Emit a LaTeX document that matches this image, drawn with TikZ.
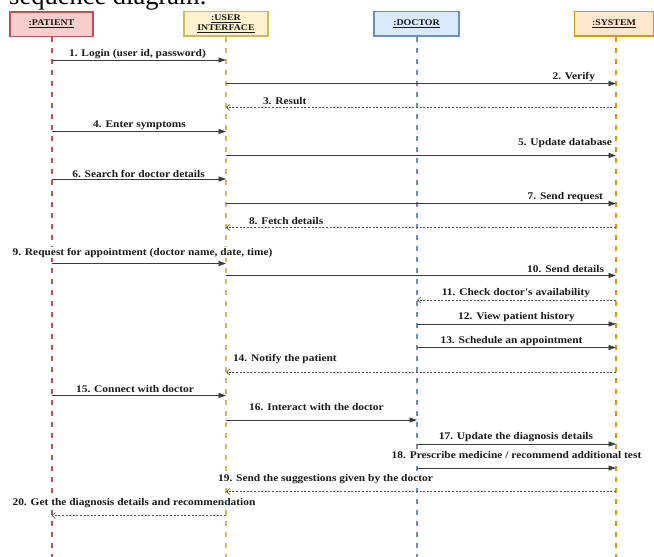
\documentclass[tikz,border=0pt]{standalone}
\usepackage{fontspec}
\setmainfont{Liberation Serif}
\newfontfamily\lblfont{Liberation Serif}[FakeStretch=1.12]
\usetikzlibrary{arrows.meta}

\definecolor{redS}{HTML}{B85450}\definecolor{redF}{HTML}{F8CECC}
\definecolor{yelS}{HTML}{D6B656}\definecolor{yelF}{HTML}{FFF2CC}
\definecolor{bluS}{HTML}{6C8EBF}\definecolor{bluF}{HTML}{DAE8FC}
\definecolor{orgS}{HTML}{D79B00}\definecolor{orgF}{HTML}{FFE6CC}
\definecolor{inkC}{HTML}{1A1A1A}

\tikzset{
  head/.style={draw, line width=1.5pt, minimum height=24.5pt, inner sep=0pt,
    align=center, text=inkC,
    font=\lblfont\bfseries\fontsize{8.8}{9.3}\selectfont},
  life/.style={line width=2pt, dash pattern=on 5pt off 6pt},
  msg/.style={draw=inkC!85, line width=0.75pt, -{Triangle[length=7.5pt,width=5pt]}},
  ret/.style={draw=inkC!75, line width=0.6pt, dash pattern=on 2pt off 1.6pt,
    -{Straight Barb[length=3.5pt,width=6pt]}},
  lbl/.style={inner sep=0.8pt, text=inkC, fill=white,
    font=\lblfont\bfseries\fontsize{10.2}{12}\selectfont},
}

\begin{document}
\begin{tikzpicture}[x=1pt,y=-1pt]
\useasboundingbox (0,0) rectangle (654,557);
\fill[white] (0,0) rectangle (654,557);

% caption text running off the top edge
\node[anchor=base west, inner sep=0pt, font=\fontsize{26.5}{28}\selectfont] (cap) at (9,4.5) {sequence diagram.};

% lifeline heads
\node[head, draw=redS, fill=redF, minimum width=83pt] (p) at (51.5,24) {\underline{:PATIENT}};
\node[head, draw=yelS, fill=yelF, minimum width=84pt] (u) at (226,23.5) {\underline{:USER}\\[1pt]\underline{INTERFACE}};
\node[head, draw=bluS, fill=bluF, minimum width=85pt] (d) at (416.5,23.5) {\underline{:DOCTOR}};
\node[head, draw=orgS, fill=orgF, minimum width=79pt] (s) at (614,23.5) {\underline{:SYSTEM}};

% lifelines
\coordinate (bot) at (0,557);
\draw[life, redS] (p.south) -- (p.south |- bot);
\draw[life, yelS] (u.south) -- (u.south |- bot);
\draw[life, bluS] ([xshift=0.5pt]d.south) -- ([xshift=0.5pt]d.south |- bot);
\draw[life, orgS] ([xshift=2pt]s.south) -- ([xshift=2pt]s.south |- bot);

% message rows
\coordinate (y1) at (0,60);   \coordinate (y2) at (0,83.5);
\coordinate (y3) at (0,107.5);\coordinate (y4) at (0,131.5);
\coordinate (y5) at (0,155.5);\coordinate (y6) at (0,179);
\coordinate (y7) at (0,203.5);\coordinate (y8) at (0,227.5);
\coordinate (y9) at (0,263.5);\coordinate (y10) at (0,275.5);
\coordinate (y11) at (0,300); \coordinate (y12) at (0,324);
\coordinate (y13) at (0,347.5);\coordinate (y14) at (0,372);
\coordinate (y15) at (0,395.5);\coordinate (y16) at (0,420);
\coordinate (y17) at (0,444); \coordinate (y18) at (0,468);
\coordinate (y19) at (0,491.5);\coordinate (y20) at (0,515.5);

% lifeline x references
\coordinate (P) at (51.5,0); \coordinate (U) at (226,0);
\coordinate (D) at (417,0);  \coordinate (S) at (616,0);

\draw[msg] (P |- y1) -- (U |- y1);
\draw[msg] (U |- y2) -- (S |- y2);
\draw[ret] (S |- y3) -- (U |- y3);
\draw[msg] (P |- y4) -- (U |- y4);
\draw[msg] (U |- y5) -- (S |- y5);
\draw[msg] (P |- y6) -- (U |- y6);
\draw[msg] (U |- y7) -- (S |- y7);
\draw[ret] (S |- y8) -- (U |- y8);
\draw[msg] (P |- y9) -- (U |- y9);
\draw[msg] (U |- y10) -- (S |- y10);
\draw[ret] (S |- y11) -- (D |- y11);
\draw[msg] (D |- y12) -- (S |- y12);
\draw[msg] (D |- y13) -- (S |- y13);
\draw[ret] (S |- y14) -- (U |- y14);
\draw[msg] (P |- y15) -- (U |- y15);
\draw[msg] (U |- y16) -- (D |- y16);
\draw[msg] (D |- y17) -- (S |- y17);
\draw[msg] (D |- y18) -- (S |- y18);
\draw[ret] (S |- y19) -- (U |- y19);
\draw[ret] (U |- y20) -- (P |- y20);

% message labels
\node[lbl] (l1) at (137.5,54) {1. Login (user id, password)};
\node[lbl, anchor=east] (l2) at (596,77.5) {2. Verify};
\node[lbl, anchor=west] (l3) at (262,101.5) {3. Result};
\node[lbl] (l4) at (139.5,125.5) {4. Enter symptoms};
\node[lbl, anchor=east] (l5) at (613,143.5) {5. Update database};
\node[lbl] (l6) at (138.5,174) {6. Search for doctor details};
\node[lbl, anchor=east] (l7) at (604,197.5) {7. Send request};
\node[lbl, anchor=west] (l8) at (248,221.5) {8. Fetch details};
\node[lbl] (l9) at (142.5,252.5) {9. Request for appointment (doctor name, date, time)};
\node[lbl, anchor=east] (l10) at (605,269.5) {10. Send details};
\node[lbl] (l11) at (516,293.5) {11. Check doctor's availability};
\node[lbl] (l12) at (516.5,317.5) {12. View patient history};
\node[lbl] (l13) at (511.5,341.5) {13. Schedule an appointment};
\node[lbl, anchor=west] (l14) at (232,359.5) {14. Notify the patient};
\node[lbl] (l15) at (135,389.5) {15. Connect with doctor};
\node[lbl] (l16) at (316.5,407.5) {16. Interact with the doctor};
\node[lbl] (l17) at (516,437.5) {17. Update the diagnosis details};
\node[lbl] (l18) at (516.5,455.5) {18. Prescribe medicine / recommend additional test};
\node[lbl] (l19) at (325.5,479.5) {19. Send the suggestions given by the doctor};
\node[lbl] (l20) at (134,503.5) {20. Get the diagnosis details and recommendation};
\end{tikzpicture}
\end{document}
